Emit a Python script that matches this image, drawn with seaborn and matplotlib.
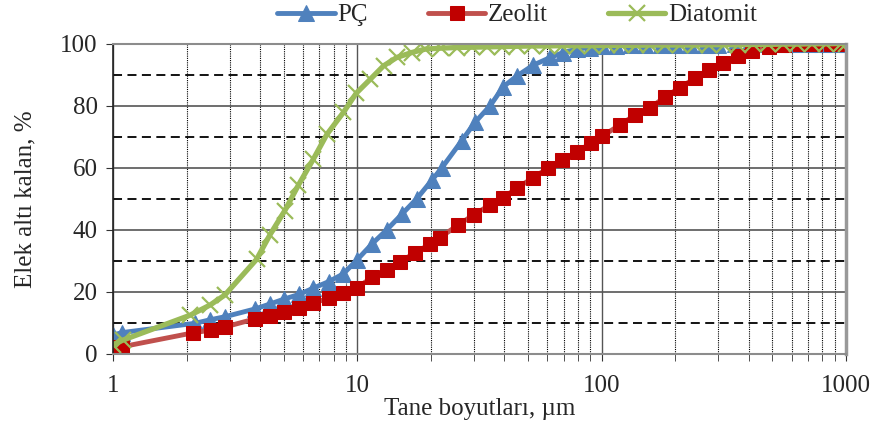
import matplotlib
matplotlib.use("Agg")
import matplotlib.pyplot as plt
import matplotlib.ticker as mticker
import seaborn as sns

# Particle size (um) and cumulative passing (%)
pc_size = [1.0, 1.09, 2.17, 2.49, 2.87, 3.81, 4.39, 5.02, 5.78, 6.6, 7.63, 8.76,
           9.94, 11.5, 13.2, 15.2, 17.5, 20.2, 22.2, 26.7, 30.3, 35.0, 39.5, 44.9,
           52.4, 61.6, 69.6, 79.0, 89.7, 100, 115, 132, 150, 175, 200, 230, 265,
           300, 350, 400, 460, 530, 600, 700, 800, 900, 1000]
pc_pass = [6.1, 6.9, 9.9, 11.0, 12.0, 14.5, 16.1, 17.7, 19.2, 21.2, 23.3, 25.8,
           30.2, 35.5, 40.0, 45.0, 50.0, 56.0, 60.0, 68.6, 74.6, 80.0, 86.0, 89.5,
           93.0, 95.5, 97.1, 98.2, 98.7, 99.2, 99.3, 99.4, 99.4, 99.5, 99.5, 99.6,
           99.6, 99.6, 99.7, 99.7, 99.8, 99.8, 99.8, 99.9, 99.9, 100, 100]

zeo_size = [1.0, 1.085, 2.12, 2.52, 2.87, 3.81, 4.39, 5.01, 5.77, 6.6, 7.66, 8.74,
            9.96, 11.5, 13.2, 14.9, 17.2, 19.9, 21.8, 25.8, 29.9, 34.9, 39.4, 45.0,
            52.4, 60.3, 68.9, 79.4, 90.6, 100.6, 119, 137, 158, 182, 209, 241, 275,
            314, 360, 414, 486, 560, 650, 750, 870, 1000]
zeo_pass = [2.3, 2.3, 6.8, 7.7, 8.7, 11.3, 12.2, 13.5, 14.8, 16.4, 18.0, 19.6,
            21.3, 24.7, 27.0, 29.7, 32.5, 35.5, 37.5, 41.5, 44.8, 48.0, 50.2, 53.5,
            56.7, 59.9, 62.5, 65.1, 68.0, 70.2, 73.8, 77.0, 79.3, 82.8, 85.8, 88.8,
            91.5, 93.8, 96.0, 97.7, 99.0, 99.5, 99.8, 100, 100, 100]

dia_size = [1.0, 1.1, 2.07, 2.5, 2.87, 3.87, 4.39, 5.05, 5.74, 6.6, 7.5, 8.77,
            9.9, 11.3, 12.8, 14.5, 16.7, 19.0, 22.0, 25.5, 29.5, 34.0, 39.0, 45.0,
            52.0, 60.0, 69.0, 79.0, 91.0, 105, 120, 138, 158, 182, 209, 240, 275,
            316, 363, 417, 479, 550, 631, 724, 832, 955, 1000]
dia_pass = [3.0, 4.5, 12.5, 15.8, 19.0, 30.5, 38.4, 46.2, 54.4, 62.7, 70.7, 77.8,
            84.0, 88.5, 92.8, 95.5, 97.1, 98.2, 98.5, 98.7, 98.8, 98.9, 99.0, 99.1,
            99.2, 99.2, 99.3, 99.3, 99.3, 99.4, 99.4, 99.4, 99.5, 99.5, 99.5, 99.5,
            99.6, 99.6, 99.6, 99.7, 99.7, 99.8, 99.8, 99.9, 99.9, 100, 100]

sns.set_style("white")
plt.rcParams['font.family'] = ['Liberation Serif', 'DejaVu Serif']
plt.rcParams['font.size'] = 18

fig = plt.figure(figsize=(8.76, 4.25), dpi=100)
ax = fig.add_axes([113/876, 1 - 354/425, (846 - 113)/876, (354 - 43.5)/425])

sns.lineplot(x=pc_size, y=pc_pass, ax=ax, color="#4F81BD", lw=3.5, marker="^",
             markersize=11, markeredgecolor="#4F81BD", label="PÇ", sort=False)
sns.lineplot(x=zeo_size, y=zeo_pass, ax=ax, color="#C0504D", lw=3.5, marker="s",
             markersize=10, markerfacecolor="#C00000", markeredgecolor="#C00000",
             label="Zeolit", sort=False)
sns.lineplot(x=dia_size, y=dia_pass, ax=ax, color="#9BBB59", lw=3.8, marker="x",
             markersize=12, markeredgewidth=1.6, markeredgecolor="#9BBB59",
             label="Diatomit", sort=False)

ax.set_xscale("log")
ax.set_xlim(1, 1000)
ax.set_ylim(0, 100)
ax.xaxis.set_major_locator(mticker.FixedLocator([1, 10, 100, 1000]))
ax.xaxis.set_major_formatter(mticker.FuncFormatter(lambda v, p: f"{v:g}"))
ax.xaxis.set_minor_locator(mticker.LogLocator(base=10, subs=range(2, 10)))
ax.xaxis.set_minor_formatter(mticker.NullFormatter())
ax.yaxis.set_major_locator(mticker.MultipleLocator(20))
ax.yaxis.set_minor_locator(mticker.MultipleLocator(10))

ax.grid(which="major", axis="x", color="#555555", lw=1.0)
ax.grid(which="minor", axis="x", color="black", lw=0.8, ls=(0, (1, 1)))
ax.grid(which="major", axis="y", color="#555555", lw=1.2)
ax.grid(which="minor", axis="y", color="black", lw=1.3, ls=(0, (5, 3)))
ax.set_axisbelow(True)

ax.tick_params(axis="x", which="both", direction="out", length=5, color="#333333",
               pad=10, labelsize=18, bottom=True)
ax.tick_params(axis="y", which="major", direction="out", length=5, color="#333333",
               pad=6, labelsize=18, left=True)
ax.tick_params(axis="y", which="minor", left=False)

for side in ["top", "bottom"]:
    ax.spines[side].set_color("#8c8c8c")
    ax.spines[side].set_linewidth(1.5)
ax.spines["right"].set_color("#999999")
ax.spines["right"].set_linewidth(2.5)
ax.spines["left"].set_color("#222222")
ax.spines["left"].set_linewidth(1.2)

ax.set_xlabel("Tane boyutları, µm", fontsize=18, labelpad=1)
ax.set_ylabel("Elek altı kalan, %", fontsize=18, labelpad=17)

ax.legend(loc="center", bbox_to_anchor=(517/876, 1 - 15/425),
          bbox_transform=fig.transFigure, ncol=3, frameon=False, fontsize=18,
          handlelength=2.3, columnspacing=2.4, handletextpad=0.1)

fig.savefig("out.png", dpi=100)
